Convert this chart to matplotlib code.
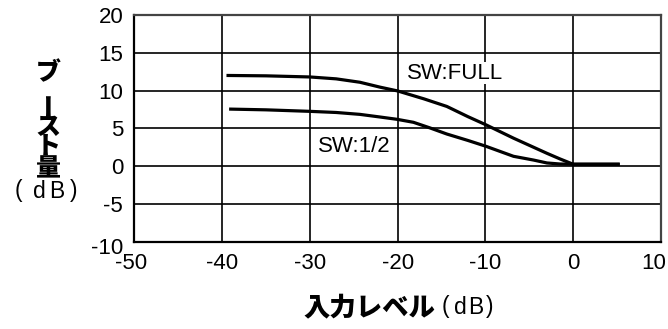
import matplotlib
matplotlib.use("Agg")
import matplotlib.pyplot as plt
import matplotlib.transforms as mtransforms

plt.rcParams['font.family'] = ['Liberation Sans', 'Noto Sans CJK JP', 'DejaVu Sans']

# Data
full_x = [-39.5, -35, -30, -27, -24.3, -22, -20, -17, -14.4, -12, -10, -6.8, -3, -1.5, 0, 5.3]
full_y = [12.0, 11.95, 11.8, 11.55, 11.1, 10.45, 9.95, 8.9, 7.9, 6.55, 5.5, 3.7, 1.7, 0.95, 0.25, 0.25]
half_x = [-39.2, -35, -30, -27, -24.3, -22, -20.1, -18.2, -16.3, -14.4, -12, -10, -6.8, -4.5, -3, -1.5, 0, 5.3]
half_y = [7.55, 7.45, 7.25, 7.1, 6.85, 6.5, 6.2, 5.8, 5.05, 4.25, 3.4, 2.65, 1.3, 0.8, 0.42, 0.28, 0.25, 0.25]
x_ticks = [-50, -40, -30, -20, -10, 0, 10]
y_ticks = [-10, -5, 0, 5, 10, 15, 20]
label_full = "SW:FULL"
label_half = "SW:1/2"

W, H = 668, 329
fig = plt.figure(figsize=(W / 100, H / 100), dpi=100)
ax = fig.add_axes([134.3 / W, 1 - 241.7 / H, (661 - 134.3) / W, (241.7 - 15) / H])

ax.set_xlim(-50, 10)
ax.set_ylim(-10, 20)
ax.set_xticks(x_ticks)
ax.set_yticks(y_ticks)
ax.set_xticklabels([str(v) for v in x_ticks])
ax.set_yticklabels([str(v) for v in y_ticks])
ax.tick_params(length=0, labelsize=16, colors='black')
ax.tick_params(axis='y', pad=8)
ax.tick_params(axis='x', pad=8)
ax.grid(True, color='black', linewidth=1.2)
ax.set_axisbelow(True)
for s in ax.spines.values():
    s.set_linewidth(1.6)
    s.set_color('black')
ax.spines['right'].set_color('#444444')
ax.spines['top'].set_color('#444444')

# shift the last x tick label a little left, as in the reference
xl = ax.get_xticklabels()
xl[-1].set_transform(xl[-1].get_transform() +
                     mtransforms.ScaledTranslation(-7 / 100, 0, fig.dpi_scale_trans))
xl[0].set_transform(xl[0].get_transform() +
                    mtransforms.ScaledTranslation(-3 / 100, 0, fig.dpi_scale_trans))
yl = ax.get_yticklabels()
yl[0].set_transform(yl[0].get_transform() +
                    mtransforms.ScaledTranslation(0, -4 / 100, fig.dpi_scale_trans))

ax.plot(full_x, full_y, color='black', linewidth=2.3, solid_capstyle='butt', zorder=3)
ax.plot(half_x, half_y, color='black', linewidth=2.3, solid_capstyle='butt', zorder=3)

ax.text(-18.9, 12.3, label_full, fontsize=16, va='center', ha='left',
        bbox=dict(facecolor='white', edgecolor='none', pad=0.5))
ax.text(-29.1, 2.6, label_half, fontsize=16, va='center', ha='left',
        bbox=dict(facecolor='white', edgecolor='none', pad=0.5))

# Vertical y-axis label
cjk = ['Noto Sans CJK JP', 'DejaVu Sans']
ychars = [("ブ", 72, 0), ("ー", 103, 90), ("ス", 127, 0), ("ト", 146, 0), ("量", 168, 0)]
for ch, yy, rot in ychars:
    fig.text(48 / W, 1 - yy / H, ch, family=cjk, fontsize=18, fontweight='black',
             ha='center', va='center', rotation=rot)
for ch, xx in [("(", 18), ("d", 39), ("B", 57), (")", 74)]:
    fig.text(xx / W, 1 - 191 / H, ch, fontsize=16.5, ha='center', va='center')

# x-axis label
fig.text(369.5 / W, 1 - 307 / H, "入力レベル", family=cjk, fontsize=19, fontweight='black',
         ha='center', va='center')
for ch, xx in [("(", 445), ("d", 460), ("B", 476), (")", 489.5)]:
    fig.text(xx / W, 1 - 307 / H, ch, fontsize=16.5, ha='center', va='center')

fig.savefig("out.png", dpi=100)
